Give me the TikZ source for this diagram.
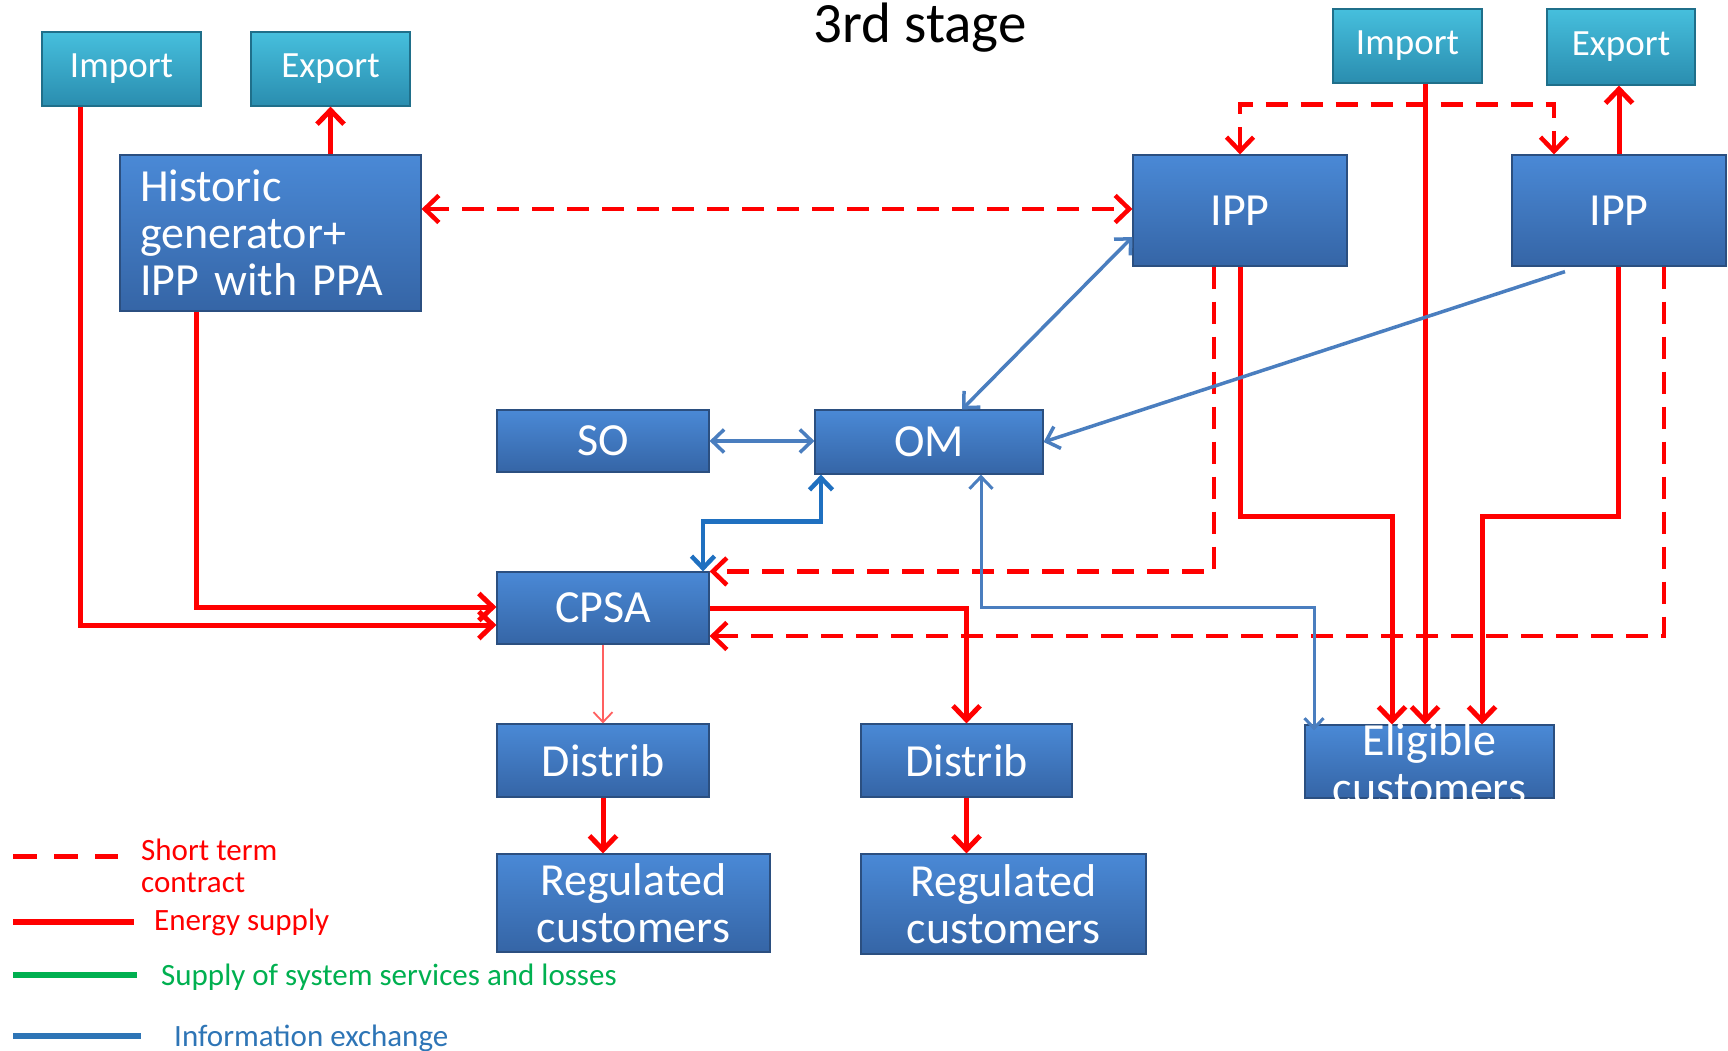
\documentclass[tikz,border=0pt]{standalone}
\usepackage{fontspec}
\setmainfont{Carlito}
\usetikzlibrary{arrows.meta}
\definecolor{boxtop}{HTML}{4A89D6}
\definecolor{boxbot}{HTML}{3565A6}
\definecolor{boxline}{HTML}{2B4F80}
\definecolor{tealtop}{HTML}{46BFDD}
\definecolor{tealbot}{HTML}{2A8DAF}
\definecolor{tealline}{HTML}{1F6F8A}
\definecolor{infoblue}{HTML}{4A7EBF}
\definecolor{infodark}{HTML}{1F70C0}
\definecolor{legblue}{HTML}{2E75B6}
\definecolor{leggreen}{HTML}{00B050}
\definecolor{thinred}{HTML}{FF6060}
\tikzset{
  rtip/.tip={Straight Barb[length=14pt,width=27pt]},
  btip/.tip={Straight Barb[length=12pt,width=23pt]},
  stip/.tip={Straight Barb[length=10pt,width=19pt]}
}
\begin{document}
\begin{tikzpicture}[x=1pt,y=-1pt,
  box/.style={draw=boxline, line width=1.2pt, top color=boxtop, bottom color=boxbot,
    text=white, inner sep=0pt, align=center, font=\fontsize{46}{47}\selectfont},
  tbox/.style={box, draw=tealline, top color=tealtop, bottom color=tealbot,
    font=\fontsize{37}{40}\selectfont},
  en/.style={draw=red, line width=5pt, line join=miter},
  stc/.style={draw=red, line width=4.5pt, dash pattern=on 22pt off 13pt},
  info/.style={draw=infoblue, line width=3.5pt},
  legtext/.style={anchor=west, inner sep=0pt, align=left, font=\fontsize{31}{32}\selectfont}
]
\useasboundingbox (0,0) rectangle (1728,1051);

% title
\node[anchor=base, inner sep=0pt, font=\fontsize{57}{60}\selectfont] (title) at (920,43) {3rd stage};

% boxes
\node[tbox, minimum width=159pt, minimum height=74pt] (impL) at (121.5,69) {Import};
\node[tbox, minimum width=159pt, minimum height=74pt] (expL) at (330.5,69) {Export};
\node[tbox, minimum width=149pt, minimum height=74pt] (impR) at (1407.5,46) {Import};
\node[tbox, minimum width=148pt, minimum height=76pt] (expR) at (1621,47) {Export};
\node[box, minimum width=301pt, minimum height=156pt, text width=261pt, align=left] (hist) at (270.5,233)
  {Historic\\generator+\\IPP with PPA};
\node[box, minimum width=214pt, minimum height=111pt] (ipp1) at (1240,210.5) {IPP};
\node[box, minimum width=214pt, minimum height=111pt] (ipp2) at (1619,210.5) {IPP};
\node[box, minimum width=212pt, minimum height=62pt] (so) at (603,441) {SO};
\node[box, minimum width=228pt, minimum height=64pt] (om) at (929,442) {OM};
\node[box, minimum width=212pt, minimum height=72pt] (cpsa) at (603,608) {CPSA};
\node[box, minimum width=212pt, minimum height=73pt] (dist1) at (603,760.5) {Distrib};
\node[box, minimum width=211pt, minimum height=73pt] (dist2) at (966.5,760.5) {Distrib};
\node[box, minimum width=273pt, minimum height=98pt] (reg1) at (633.5,903) {Regulated\\customers};
\node[box, minimum width=285pt, minimum height=100pt] (reg2) at (1003.5,904) {Regulated\\customers};
\node[box, minimum width=249pt, minimum height=73pt] (elig) at (1429.5,761.5) {};
\node[inner sep=0pt, text=white, align=center, font=\fontsize{46}{48}\selectfont] (eligtext) at (1429.5,764) {Eligible\\customers};

% energy supply (solid red)
\draw[en, -{rtip}] ([xshift=-41.5pt]impL.south) |- ([yshift=-17pt]cpsa.west);
\draw[en, -{rtip}] ([xshift=-74.5pt]hist.south) |- ([yshift=1pt]cpsa.west);
\draw[en, -{rtip}] (hist.north -| expL.south) -- (expL.south);
\draw[en, -{rtip}] ([xshift=17.5pt]impR.south) -- ([xshift=-4.5pt]elig.north);
\draw[en, -{rtip}] (ipp2.north) -- (ipp2.north |- expR.south);
\draw[en, -{rtip}] (ipp1.south) -- ++(0,250) -| ([xshift=-37.5pt]elig.north);
\draw[en, -{rtip}] ([xshift=-1pt]ipp2.south) -- ++(0,250) -| ([xshift=52.5pt]elig.north);
\draw[en, -{rtip}] (cpsa.east) -| (dist2.north);
\draw[draw=thinred, line width=1.8pt, -{stip}] (cpsa.south) -- (dist1.north);
\draw[en, -{rtip}] (dist1.south) -- (dist1.south |- reg1.north);
\draw[en, -{rtip}] (dist2.south) -- (dist2.south |- reg2.north);

% short term contracts (dashed red)
\draw[stc, {rtip}-{rtip}] ([yshift=24pt]hist.east) -- ([yshift=1.5pt]ipp1.west);
\draw[stc, {rtip}-{rtip}] (ipp1.north) -- ++(0,-50) -| ([xshift=-65pt]ipp2.north);
\draw[stc, -{rtip}] ([xshift=-26pt]ipp1.south) |- (cpsa.north east);
\draw[stc, -{rtip}] ([xshift=45pt]ipp2.south) |- ([yshift=-28pt]cpsa.east);

% information exchange (blue)
\draw[info, {btip}-{btip}] (so.east) -- ([yshift=1pt]om.west);
\draw[info, {btip}-{btip}] ([xshift=33pt]om.north) -- ([yshift=-26.5pt]ipp1.west);
\draw[info, -{btip}] ([xshift=-54pt,yshift=-5pt]ipp2.south) -- (om.east);
\draw[draw=infodark, line width=4.5pt, {btip}-{btip}] ([xshift=-108pt]om.south) -- ++(0,47) -| ([xshift=100pt]cpsa.north);
\draw[info, line width=3pt, {btip}-{stip}] ([xshift=52pt]om.south) -- ++(0,133) -| ([xshift=-115.5pt,yshift=-6pt]elig.north);

% legend
\coordinate (l1a) at (13,856); \coordinate (l1b) at (118,856);
\coordinate (l2a) at (13,922); \coordinate (l2b) at (134,922);
\coordinate (l3a) at (13,975); \coordinate (l3b) at (137,975);
\coordinate (l4a) at (13,1036); \coordinate (l4b) at (141,1036);
\draw[stc, line width=5pt, dash pattern=on 24pt off 17pt] (l1a) -- (l1b);
\draw[draw=red, line width=6pt] (l2a) -- (l2b);
\draw[draw=leggreen, line width=5.5pt] (l3a) -- (l3b);
\draw[draw=legblue, line width=5.5pt] (l4a) -- (l4b);
\node[legtext, text=red] (t1) at (141,866) {Short term\\contract};
\node[legtext, text=red] (t2) at (154,922) {Energy supply};
\node[legtext, text=leggreen] (t3) at (161,977) {Supply of system services and losses};
\node[legtext, text=legblue] (t4) at (174,1038) {Information exchange};
\end{tikzpicture}
\end{document}
